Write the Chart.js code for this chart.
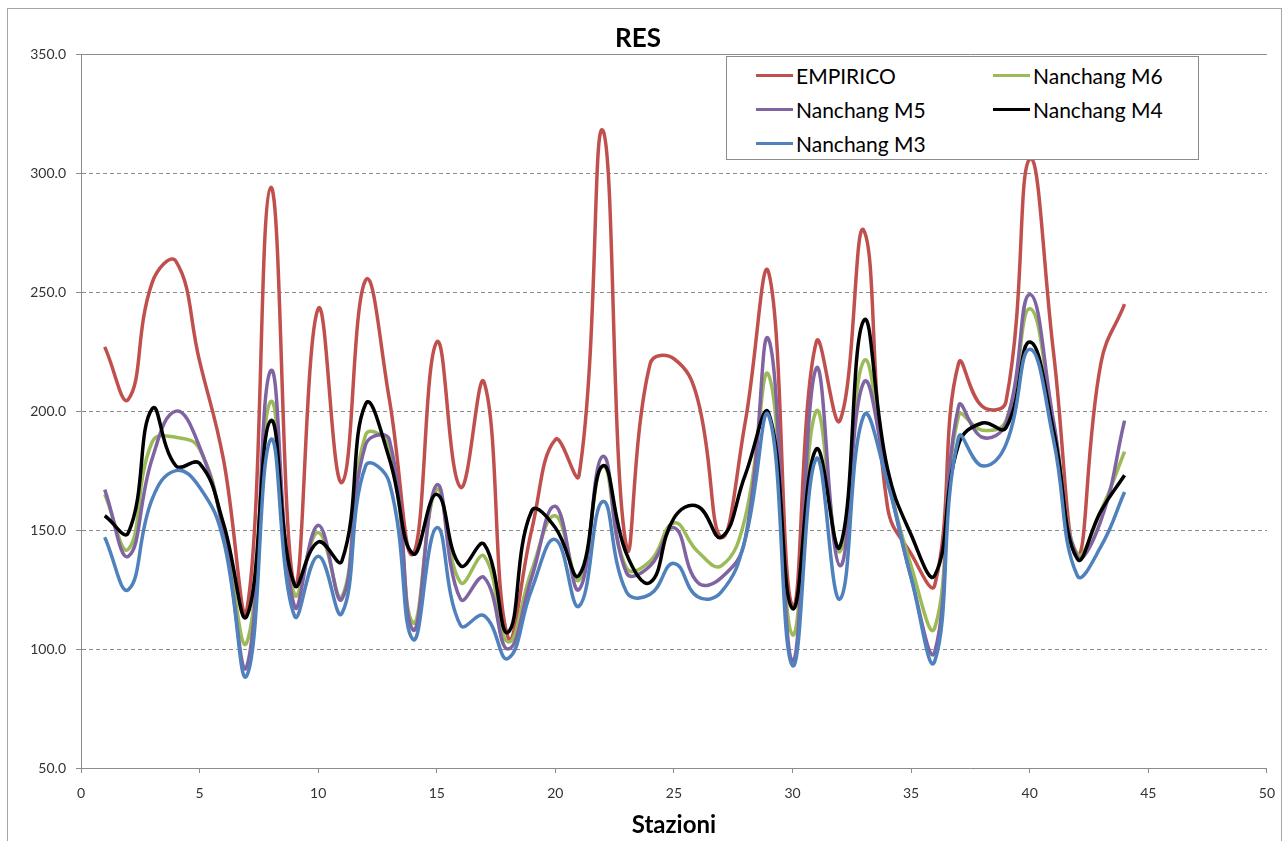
<!DOCTYPE html>
<html>
<head>
<meta charset="utf-8">
<script src="https://cdn.jsdelivr.net/npm/chart.js@4.4.0/dist/chart.umd.min.js"></script>
<style>
html,body{margin:0;padding:0;background:#fff;}
#wrap{position:relative;width:1287px;height:841px;overflow:hidden;background:#fff;}
#frame{position:absolute;left:7px;top:8px;width:1275px;height:860px;border:1px solid #a6a6a6;box-sizing:border-box;}
#c{position:absolute;left:0;top:0;}
#legend{position:absolute;left:726px;top:56px;width:473px;height:104px;border:1px solid #8c8c8c;box-sizing:border-box;background:#fff;font-family:Lato,"Open Sans",sans-serif;font-size:21px;color:#000;z-index:2;}
.item{position:absolute;display:flex;align-items:center;height:26px;white-space:nowrap;}
.swatch{width:37px;height:3px;margin-right:3px;}
</style>
</head>
<body>
<div id="wrap">
<div id="frame"></div>
<canvas id="c" width="1287" height="841"></canvas>
<div id="legend"></div>
</div>
<script>
// ---- data ----
const stations = [1,2,3,4,5,6,7,8,9,10,11,12,13,14,15,16,17,18,19,20,21,22,23,24,25,26,27,28,29,30,31,32,33,34,35,36,37,38,39,40,41,42,43,44];
const empirico = [227,205,254,263,221,180,117,294,127,243,170,255,205,140,229,168,212,105,150,188,173,318,143,220,222,205,147,195,258,118,229,196,276,160,140,127,220,202,204,306,225,139,220,245];
const nanchangM6 = [165,142,187,189,184,150,103,204,123,149,122,190,185,111,167,128,139,103,133,156,129,177,134,137,153,141,135,155,215,106,200,141,221,173,135,109,198,192,196,243,195,140,158,183];
const nanchangM5 = [167,139,180,200,185,150,93,217,118,152,121,186,188,108,169,121,130,100,130,160,125,181,132,135,151,128,130,146,230,95,218,135,212,172,130,99,202,189,195,249,196,139,154,196];
const nanchangM4 = [156,149,201,177,178,153,114,196,127,145,137,203,180,140,165,135,144,107,158,151,131,177,140,128,155,160,147,173,199,117,184,143,238,176,148,131,186,195,193,229,192,138,158,173];
const nanchangM3 = [147,125,163,175,168,146,89,188,114,139,115,177,170,104,151,110,114,96,125,146,118,162,124,123,136,122,124,146,198,93,180,121,198,170,130,95,189,177,186,226,188,131,143,166];
const seriesNames = ["EMPIRICO","Nanchang M6","Nanchang M5","Nanchang M4","Nanchang M3"];
const seriesColors = ["#C0504D","#9BBB59","#8064A2","#000000","#4F81BD"];
const seriesValues = [empirico, nanchangM6, nanchangM5, nanchangM4, nanchangM3];
const yTicks = [50,100,150,200,250,300,350];
const xTicks = [0,5,10,15,20,25,30,35,40,45,50];
const chartTitle = "RES";
const xTitle = "Stazioni";

const FONT = 'Lato, "Open Sans", sans-serif';

const datasets = seriesValues.map((vals, i) => ({
  label: seriesNames[i],
  data: stations.map((s, j) => ({x: s, y: vals[j]})),
  borderColor: seriesColors[i],
  backgroundColor: seriesColors[i],
  borderWidth: 3.5,
  pointRadius: 0,
  tension: 0.45,
  fill: false,
  order: seriesNames.length - i
}));

const topLine = {
  id: 'topLine',
  beforeDatasetsDraw(chart) {
    const {ctx, chartArea} = chart;
    ctx.save();
    ctx.strokeStyle = '#8c8c8c';
    ctx.lineWidth = 1;
    ctx.beginPath();
    ctx.moveTo(chartArea.left, Math.round(chartArea.top) + 0.5);
    ctx.lineTo(chartArea.right, Math.round(chartArea.top) + 0.5);
    ctx.stroke();
    ctx.restore();
  }
};

new Chart(document.getElementById('c'), {
  type: 'line',
  data: { datasets },
  plugins: [topLine],
  options: {
    responsive: false,
    animation: false,
    layout: { padding: { left: 8, right: 19, top: 0, bottom: 0 } },
    plugins: {
      legend: { display: false },
      tooltip: { enabled: false },
      title: {
        display: true,
        text: chartTitle,
        color: '#000',
        font: { family: FONT, size: 26, weight: 'bold' },
        padding: { top: 23, bottom: 0 }
      }
    },
    scales: {
      x: {
        type: 'linear',
        min: 0, max: 50,
        afterBuildTicks(scale) { scale.ticks = xTicks.map(v => ({value: v})); },
        afterFit(scale) { scale.height = 73; },
        grid: { drawOnChartArea: false, drawTicks: true, tickLength: 5, color: '#8c8c8c' },
        border: { display: true, color: '#8c8c8c', width: 1 },
        ticks: { color: '#333', font: { family: FONT, size: 14 }, padding: 12, maxRotation: 0, autoSkip: false },
        title: { display: true, text: xTitle, color: '#000', font: { family: FONT, size: 24, weight: 'bold' }, padding: { top: 0, bottom: 1 } }
      },
      y: {
        min: 50, max: 350,
        afterBuildTicks(scale) { scale.ticks = yTicks.map(v => ({value: v})); },
        afterFit(scale) { scale.width = 73; },
        grid: { drawOnChartArea: true, drawTicks: true, tickLength: 5, color: '#8c8c8c', lineWidth: 1 },
        border: { display: true, color: '#8c8c8c', width: 1, dash: [4, 3] },
        ticks: { color: '#333', font: { family: FONT, size: 14 }, padding: 10, callback: v => Number(v).toFixed(1) }
      }
    }
  }
});

// HTML legend built from the series arrays
const legend = document.getElementById('legend');
const slots = [[29,5],[266,5],[29,39],[266,39],[29,73]];
seriesNames.forEach((name, i) => {
  const it = document.createElement('div');
  it.className = 'item';
  it.style.left = slots[i][0] + 'px';
  it.style.top = slots[i][1] + 'px';
  const sw = document.createElement('span');
  sw.className = 'swatch';
  sw.style.background = seriesColors[i];
  const tx = document.createElement('span');
  tx.textContent = name;
  it.appendChild(sw); it.appendChild(tx);
  legend.appendChild(it);
});
</script>
</body>
</html>
